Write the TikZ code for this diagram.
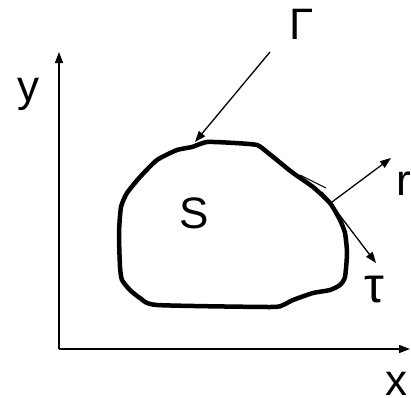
\documentclass[tikz,border=0pt]{standalone}
\usepackage{fontspec}
\setmainfont{Liberation Sans}
\usetikzlibrary{arrows.meta}
\begin{document}
\begin{tikzpicture}[x=1pt,y=-1pt,
  thinline/.style={line width=1.3pt},
  arr/.style={thinline,-{Triangle[length=11pt,width=8pt]}},
  lbl/.style={font=\fontsize{44}{50}\selectfont, inner sep=0pt, anchor=base}]
\useasboundingbox (0,0) rectangle (411,397);
% axes
\coordinate (O) at (59,349);
\coordinate (Ytip) at (59,52);
\coordinate (Xtip) at (410,349);
\draw[arr] (O) -- (Ytip);
\draw[arr] (O) -- (Xtip);
% boundary
\draw[line width=4.5pt, line join=round] plot[smooth cycle, tension=0.35] coordinates {
 (207,142) (235,143) (257,145) (267,152) (283,165) (293,173) (313,187) (330,203)
 (340,220) (345,233) (347,253) (345,277) (340,285) (330,290) (313,293)
 (293,300) (283,305) (270,307) (157,305) (140,298) (130,290) (122,280)
 (120,267) (119,233) (121,207) (127,193) (140,177) (157,160) (177,150) (192,147)};
\draw[line width=1pt] (300,175) -- (326,188);
% labels
\node[lbl] (gamma) at (302,39) {Γ};
\node[lbl] (ylbl) at (28,101) {y};
\node[lbl, text depth=0pt] (xlbl) at (396,395) {x};
\node[lbl] (S) at (194,228) {S};
\node[lbl] (r) at (404,195) {r};
\node[lbl, font=\fontsize{50}{56}\selectfont] (tau) at (374,302) {τ};
% arrows
\coordinate (gstart) at (270,52);
\coordinate (gend) at (195,142);
\draw[arr] (gstart) -- (gend);
\coordinate (rstart) at (332,202);
\coordinate (rend) at (391,158);
\draw[arr] (rstart) -- (rend);
\coordinate (tstart) at (322,192);
\coordinate (tend) at (376,263);
\draw[arr] (tstart) -- (tend);
\end{tikzpicture}
\end{document}
